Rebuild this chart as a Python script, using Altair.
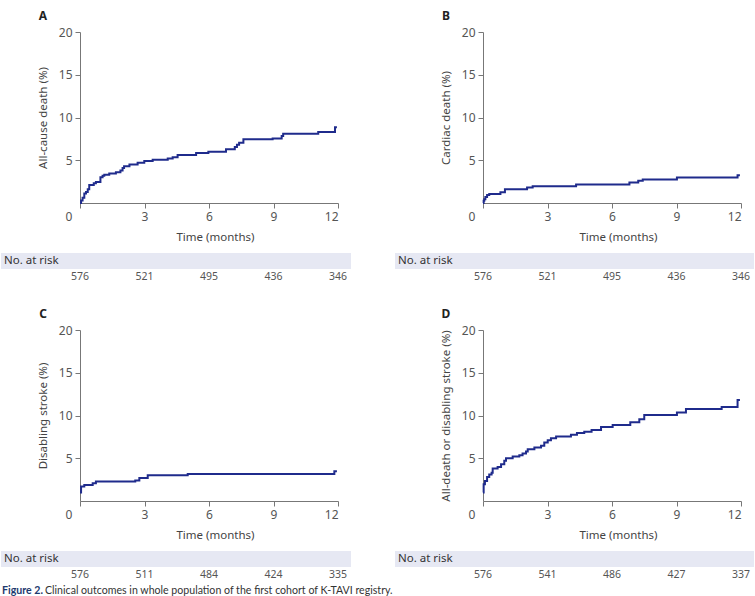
import altair as alt
import pandas as pd

LINE = "#1f2b8c"
BAND = "#e6e8f3"
FONT = "Noto Sans"

# Kaplan-Meier style cumulative incidence, months vs. percent
a_months = [0, 0.05, 0.12, 0.2, 0.28, 0.36, 0.43, 0.64, 0.74, 0.95, 1.05, 1.13, 1.36, 1.67,
            1.88, 1.98, 2.05, 2.3, 2.68, 2.99, 3.38, 4.08, 4.31, 4.54, 5.4, 5.97, 6.79, 7.2,
            7.3, 7.4, 7.6, 8.96, 9.38, 9.45, 11.08, 11.86, 11.95]
a_pct = [0, 0.3, 0.6, 1.1, 1.3, 1.6, 2.1, 2.3, 2.45, 3.0, 3.2, 3.3, 3.45, 3.6,
         3.8, 4.1, 4.3, 4.5, 4.7, 4.9, 5.05, 5.2, 5.35, 5.6, 5.85, 6.0, 6.3, 6.55,
         6.8, 7.05, 7.45, 7.55, 7.85, 8.1, 8.3, 8.85, 8.85]

b_months = [0, 0.03, 0.06, 0.11, 0.19, 0.29, 0.81, 1.02, 2.05, 2.31, 4.33, 6.81, 7.22,
            7.43, 9.02, 11.84, 11.95]
b_pct = [0, 0.25, 0.43, 0.7, 0.94, 1.05, 1.25, 1.6, 1.8, 1.95, 2.15, 2.4, 2.6,
         2.75, 2.97, 3.24, 3.24]

c_months = [0, 0.05, 0.2, 0.59, 0.74, 2.57, 2.76, 3.15, 5.01, 11.83, 11.95]
c_pct = [1.0, 1.7, 1.87, 2.07, 2.27, 2.4, 2.7, 3.0, 3.15, 3.47, 3.47]

d_months = [0, 0.03, 0.09, 0.19, 0.29, 0.40, 0.45, 0.68, 0.84, 0.99, 1.07, 1.38, 1.69,
            1.84, 2.0, 2.08, 2.39, 2.7, 2.85, 3.01, 3.16, 3.4, 4.09, 4.37, 4.71, 5.05,
            5.49, 6.03, 6.85, 7.27, 7.5, 9.02, 9.44, 11.1, 11.84, 11.95]
d_pct = [0.98, 1.95, 2.34, 2.8, 3.1, 3.3, 3.8, 3.98, 4.3, 4.7, 5.0, 5.2, 5.35,
         5.55, 5.8, 6.05, 6.25, 6.45, 6.85, 7.1, 7.35, 7.55, 7.75, 7.95, 8.1, 8.3,
         8.65, 8.9, 9.2, 9.55, 10.05, 10.35, 10.75, 11.0, 11.8, 11.8]

# Numbers at risk
risk_months = [0, 3, 6, 9, 12]
risk_a = [576, 521, 495, 436, 346]
risk_b = [576, 521, 495, 436, 346]
risk_c = [576, 511, 484, 424, 335]
risk_d = [576, 541, 486, 427, 337]

letters = ["A", "B", "C", "D"]
y_titles = ["All-cause death (%)", "Cardiac death (%)", "Disabling stroke (%)",
            "All-death or disabling stroke (%)"]
x_title = "Time (months)"
x_ticks = [0, 3, 6, 9, 12]
y_ticks = [5, 10, 15, 20]
risk_label = "No. at risk"
caption_bold = "Figure 2."
caption_text = "Clinical outcomes in whole population of the first cohort of K-TAVI registry."

W, H = 258, 171


def panel(letter, ytitle, months, pct, risk, left_col=False, first=False, caption=False):
    x_enc = alt.X(
        "t:Q",
        scale=alt.Scale(domain=[0, 12], nice=False),
        axis=alt.Axis(values=x_ticks, labelExpr="datum.value == 0 ? '' : datum.label",
                      title=x_title, titleX=135, titleY=34, titleBaseline="middle",
                      titleAlign="center"),
    )
    y_enc = alt.Y(
        "v:Q",
        scale=alt.Scale(domain=[0, 20], nice=False),
        axis=alt.Axis(values=y_ticks, title=ytitle, titleX=-37, titleY=H / 2,
                      titleAngle=270, titleAlign="center", titleBaseline="middle"),
    )
    curve = alt.Chart(pd.DataFrame({"t": months, "v": pct})).mark_line(
        interpolate="step-after", color=LINE, strokeWidth=2
    ).encode(x=x_enc, y=y_enc)

    one = pd.DataFrame({"label": [risk_label], "letter": [letter], "zero": ["0"],
                        "bold": [caption_bold], "cap": [caption_text]})
    base = alt.Chart(one)

    band_left = -79 if left_col else -88
    band = base.mark_rect(color=BAND).encode(
        x=alt.value(band_left), x2=alt.value(271), y=alt.value(221), y2=alt.value(237))
    band_label = base.mark_text(align="left", baseline="middle", font=FONT, fontSize=11.5,
                                color="#333").encode(
        x=alt.value(band_left + 3), y=alt.value(229), text="label:N")
    counts = alt.Chart(pd.DataFrame({"t": risk_months, "n": risk})).mark_text(
        baseline="middle", font=FONT, fontSize=10.5, color="#555"
    ).encode(x=x_enc, y=alt.value(245), text="n:Q")
    tag = base.mark_text(baseline="middle", font=FONT, fontSize=12, fontWeight="bold",
                         color="#222").encode(
        x=alt.value(-37), y=alt.value(-16), text="letter:N")
    origin = base.mark_text(baseline="middle", font=FONT, fontSize=12, color="#555").encode(
        x=alt.value(-11), y=alt.value(185), text="zero:N")

    layers = [band, band_label, curve, counts, tag, origin]
    if first:
        # anchors the top edge of the figure
        pin = base.mark_rect(opacity=0).encode(
            x=alt.value(-79), x2=alt.value(-78), y=alt.value(-31), y2=alt.value(-30))
        layers.append(pin)
    if caption:
        cap_b = base.mark_text(align="left", baseline="middle", font="Lato", fontSize=10.6,
                               fontWeight="bold", color="#1e3a6e").encode(
            x=alt.value(-78), y=alt.value(261), text="bold:N")
        cap_t = base.mark_text(align="left", baseline="middle", font="Lato", fontSize=10.6,
                               color="#333").encode(
            x=alt.value(-35), y=alt.value(261), text="cap:N")
        layers += [cap_b, cap_t]
    return alt.layer(*layers).properties(width=W, height=H)


pa = panel(letters[0], y_titles[0], a_months, a_pct, risk_a, left_col=True, first=True)
pb = panel(letters[1], y_titles[1], b_months, b_pct, risk_b)
pc = panel(letters[2], y_titles[2], c_months, c_pct, risk_c, left_col=True, caption=True)
pd_ = panel(letters[3], y_titles[3], d_months, d_pct, risk_d)

chart = alt.concat(
    pa, pb, pc, pd_, columns=2, spacing={"row": 127, "column": 145}, bounds="flush"
).properties(
    padding={"left": 0, "top": 0, "right": 0, "bottom": 0}
).configure_view(
    stroke="transparent"
).configure_axis(
    grid=False,
    domainColor="#777",
    tickColor="#777",
    tickSize=5,
    labelColor="#555",
    labelFont=FONT,
    labelFontSize=12,
    labelPadding=3,
    titleColor="#444",
    titleFont=FONT,
    titleFontSize=11.5,
    titleFontWeight="normal",
)

chart.save("out.html", embed_options={"renderer": "svg", "actions": False})
